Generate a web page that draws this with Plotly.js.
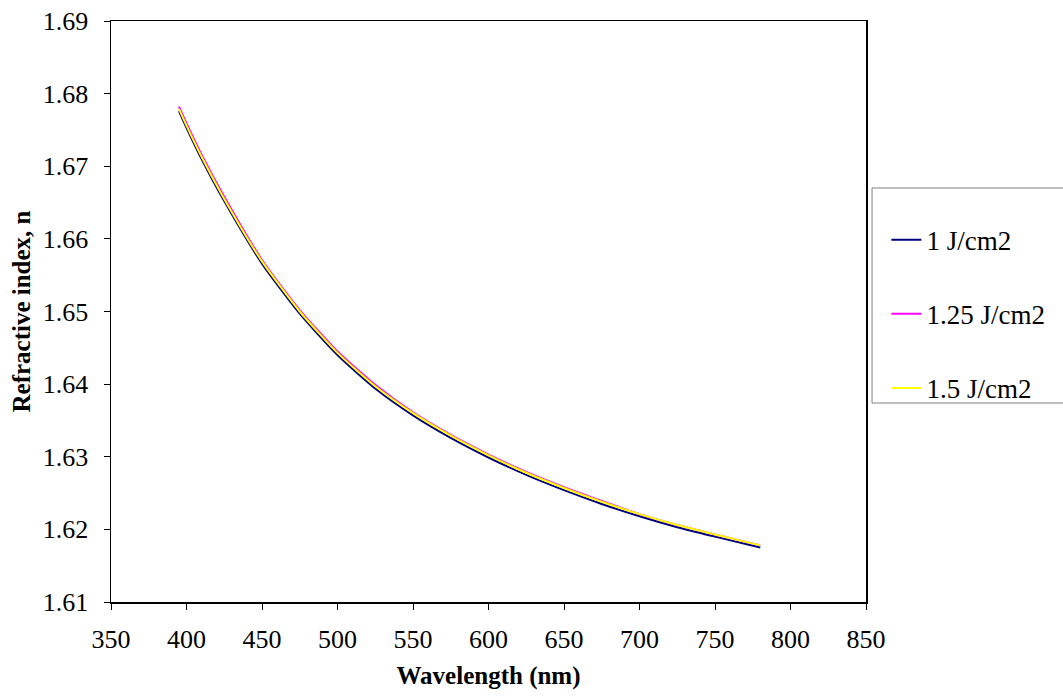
<!DOCTYPE html>
<html>
<head>
<meta charset="utf-8">
<script src="https://cdn.plot.ly/plotly-3.0.1.min.js"></script>
<style>body{margin:0;background:#fff;} #chart{width:1063px;height:700px;}</style>
</head>
<body>
<div id="chart"></div>
<script>
const wavelength = [395, 400, 410, 425, 450, 475, 500, 525, 550, 575, 600, 625, 650, 675, 700, 725, 750, 780];
const n_1J    = [1.6776, 1.6753, 1.6710, 1.6652, 1.6566, 1.6497, 1.6440, 1.6394, 1.6357, 1.6326, 1.6299, 1.6275, 1.6254, 1.6235, 1.6218, 1.6203, 1.6190, 1.6175];
const n_125J  = [1.6782, 1.6759, 1.6716, 1.6658, 1.6571, 1.6502, 1.6445, 1.6399, 1.6361, 1.6330, 1.6303, 1.6279, 1.6258, 1.6239, 1.6221, 1.6206, 1.6193, 1.6178];
const n_15J   = [1.6779, 1.6756, 1.6713, 1.6655, 1.6569, 1.6500, 1.6443, 1.6397, 1.6360, 1.6329, 1.6302, 1.6278, 1.6257, 1.6238, 1.6221, 1.6206, 1.6193, 1.6178];
const seriesNames = ['1 J/cm2', '1.25 J/cm2', '1.5 J/cm2'];
const seriesColors = ['#000080', '#FF00FF', '#FFFF00'];
const xTicks = [350, 400, 450, 500, 550, 600, 650, 700, 750, 800, 850];
const yTicks = [1.61, 1.62, 1.63, 1.64, 1.65, 1.66, 1.67, 1.68, 1.69];

const FONT = 'Liberation Serif';
const ys = [n_1J, n_125J, n_15J];
const traces = ys.map((y, i) => ({
  x: wavelength, y: y, type: 'scatter', mode: 'lines', name: seriesNames[i],
  line: {color: seriesColors[i], width: 2, shape: 'spline', smoothing: 0.6},
  legendgroup: 'g' + i
}));

const layout = {
  width: 1063, height: 700,
  paper_bgcolor: '#fff', plot_bgcolor: '#fff',
  margin: {l: 111, r: 197, t: 21, b: 98},
  font: {family: FONT, size: 26, color: '#000'},
  showlegend: true,
  xaxis: {
    range: [350, 850], tickvals: xTicks, ticktext: xTicks.map(String),
    showgrid: false, zeroline: false, showline: true, linecolor: '#000', linewidth: 1.5,
    mirror: true, ticks: 'outside', ticklen: 6, tickcolor: '#000', ticklabelstandoff: 7,
    tickfont: {family: FONT, size: 26, color: '#000'},
    title: {text: '<b>Wavelength (nm)</b>', font: {family: FONT, size: 25, color: '#000'}, standoff: 14}
  },
  yaxis: {
    range: [1.61, 1.69], tickvals: yTicks, ticktext: yTicks.map(v => v.toFixed(2)),
    showgrid: false, zeroline: false, showline: true, linecolor: '#000', linewidth: 1.5,
    mirror: true, ticks: 'outside', ticklen: 6, tickcolor: '#000', ticklabelstandoff: 10,
    tickfont: {family: FONT, size: 26, color: '#000'},
    title: {text: '<b>Refractive index, n</b>', font: {family: FONT, size: 25, color: '#000'}, standoff: 5}
  },
  legend: {
    x: 1.027, xanchor: 'left', y: 0.665, yanchor: 'top',
    bgcolor: 'rgba(0,0,0,0)', borderwidth: 0,
    font: {family: FONT, size: 27, color: '#000'},
    traceorder: 'grouped', tracegroupgap: 36
  },
  shapes: [{
    type: 'rect', xref: 'paper', yref: 'paper',
    x0: 1.008, x1: 1.35, y0: 0.3425, y1: 0.7126,
    line: {color: '#808080', width: 1}, fillcolor: 'rgba(0,0,0,0)'
  }]
};

Plotly.newPlot('chart', traces, layout, {displayModeBar: false, staticPlot: true});
</script>
</body>
</html>
